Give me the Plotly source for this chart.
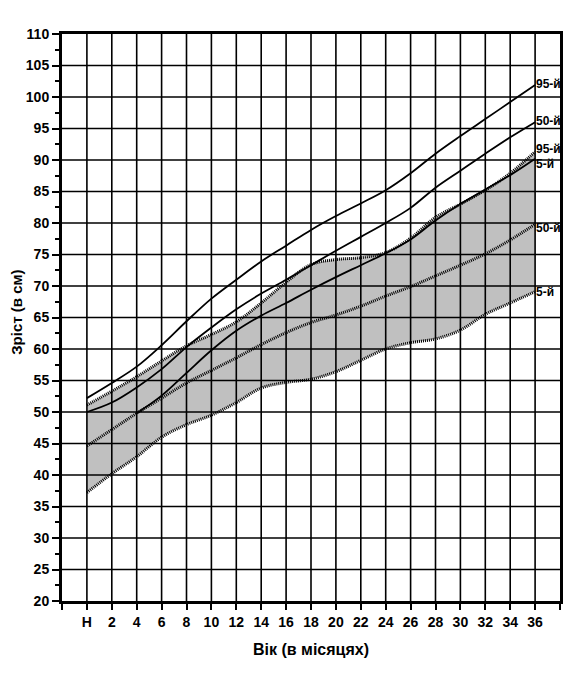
import plotly.graph_objects as go

# ---- data ----
months = [0, 2, 4, 6, 8, 10, 12, 14, 16, 18, 20, 22, 24, 26, 28, 30, 32, 34, 36]
x_tick_labels = ["Н", "2", "4", "6", "8", "10", "12", "14", "16", "18", "20",
                 "22", "24", "26", "28", "30", "32", "34", "36"]
y_ticks = [20, 25, 30, 35, 40, 45, 50, 55, 60, 65, 70, 75, 80, 85, 90, 95, 100, 105, 110]

solid_p95 = [52.2, 54.6, 57.2, 60.6, 64.4, 68.0, 71.0, 73.9, 76.4, 78.9, 81.1, 83.1,
             85.2, 87.9, 91.0, 93.8, 96.5, 99.2, 101.9]
solid_p50 = [50.0, 51.5, 53.9, 56.8, 60.3, 63.4, 66.3, 68.8, 71.0, 73.3, 75.6, 77.8,
             80.0, 82.4, 85.6, 88.3, 91.0, 93.6, 96.0]
# solid 5th percentile emerges from the dotted 50th line at 4 months
solid_p5_months = [4, 6, 8, 10, 12, 14, 16, 18, 20, 22, 24, 26, 28, 30, 32, 34, 36]
solid_p5 = [49.8, 52.6, 56.2, 59.8, 62.9, 65.3, 67.3, 69.4, 71.4, 73.3,
            75.2, 77.4, 80.4, 83.0, 85.3, 87.6, 90.2]

dot_p95 = [51.1, 53.3, 55.6, 58.1, 60.5, 62.3, 64.3, 67.3, 70.6, 73.4, 74.2, 74.5,
           75.3, 77.6, 80.9, 83.0, 85.2, 87.9, 91.3]
dot_p50 = [44.6, 47.2, 49.8, 52.2, 54.6, 56.6, 58.6, 60.7, 62.6, 64.2, 65.4, 66.8,
           68.4, 69.9, 71.6, 73.3, 75.1, 77.3, 79.8]
dot_p5 = [37.2, 40.2, 42.9, 46.0, 48.0, 49.5, 51.5, 53.8, 54.7, 55.2, 56.4, 58.2,
          60.0, 61.0, 61.6, 63.0, 65.5, 67.3, 69.1]

labels = ["95-й", "50-й", "95-й", "5-й", "50-й", "5-й"]

# ---- figure ----
fig = go.Figure()
SHAPE = "spline"

# shaded band
fig.add_trace(go.Scatter(x=months, y=dot_p5, mode="lines", line=dict(width=0, shape=SHAPE),
                         showlegend=False, hoverinfo="skip"))
fig.add_trace(go.Scatter(x=months, y=dot_p95, mode="lines", line=dict(width=0, shape=SHAPE),
                         fill="tonexty", fillcolor="#C0C0C0", showlegend=False, hoverinfo="skip"))

# grid drawn above the band
gx, gy = [], []
for m in months:
    gx += [m, m, None]
    gy += [y_ticks[0], y_ticks[-1], None]
for v in y_ticks[1:-1]:
    gx += [-2, 38, None]
    gy += [v, v, None]
fig.add_trace(go.Scatter(x=gx, y=gy, mode="lines", line=dict(color="black", width=1.6),
                         showlegend=False, hoverinfo="skip"))

# solid curves
for xs, s in ((months, solid_p95), (months, solid_p50), (solid_p5_months, solid_p5)):
    fig.add_trace(go.Scatter(x=xs, y=s, mode="lines",
                             line=dict(color="black", width=1.8, shape=SHAPE),
                             showlegend=False))
# dotted curves
for s in (dot_p95, dot_p50, dot_p5):
    fig.add_trace(go.Scatter(x=months, y=s, mode="lines",
                             line=dict(color="black", width=3, dash="1px,1px", shape=SHAPE),
                             showlegend=False))

# right-side labels
ends = [solid_p95[-1], solid_p50[-1], dot_p95[-1], solid_p5[-1], dot_p50[-1], dot_p5[-1]]
shifts = [1, 1, 3, -5, -4, 0]
for txt, yv, sh in zip(labels, ends, shifts):
    fig.add_annotation(x=months[-1], y=yv, text=txt, showarrow=False, xanchor="left",
                       yanchor="middle", xshift=-1, yshift=sh,
                       font=dict(family="Liberation Sans Narrow, Arial Narrow, Arial",
                                 size=12, color="black", weight="bold"))

# axis titles
fig.add_annotation(xref="paper", yref="paper", x=0.5, y=-0.0864, text="Вік (в місяцях)",
                   showarrow=False, xanchor="center", yanchor="middle",
                   font=dict(family="Liberation Sans, Arial", size=16, color="black", weight="bold"))
fig.add_annotation(xref="paper", yref="paper", x=-0.0904, y=0.51, text="Зріст (в см)",
                   showarrow=False, xanchor="center", yanchor="middle", textangle=-90,
                   font=dict(family="Liberation Sans, Arial", size=15, color="black", weight="bold"))

tickfont = dict(family="Liberation Sans Narrow, Arial Narrow, Arial", size=14,
                color="black", weight="bold")

fig.update_xaxes(range=[-2, 38], tickvals=[-2] + months + [38],
                 ticktext=[""] + x_tick_labels + [""],
                 showgrid=False, zeroline=False, showline=True, linecolor="black",
                 linewidth=3, mirror=True, ticks="outside", ticklen=6, tickwidth=2,
                 tickcolor="black", tickfont=tickfont, layer="above traces")
fig.update_yaxes(range=[20, 110], tickvals=y_ticks, showgrid=False, zeroline=False,
                 showline=True, linecolor="black", linewidth=3, mirror=True,
                 ticks="outside", ticklen=7, tickwidth=2, tickcolor="black",
                 minor=dict(dtick=2.5, tick0=20, ticks="outside", ticklen=4, tickwidth=2,
                            tickcolor="black", showgrid=False),
                 tickfont=tickfont, layer="above traces")

fig.update_layout(width=582, height=686, margin=dict(l=62, r=22, t=34, b=85),
                  plot_bgcolor="white", paper_bgcolor="white", showlegend=False)

fig.write_html("out.html")
